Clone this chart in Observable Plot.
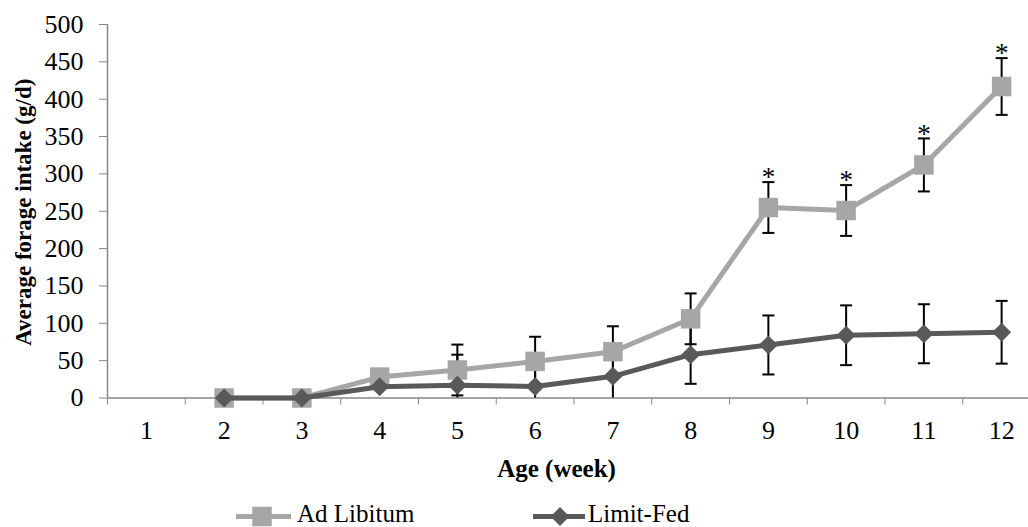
<!DOCTYPE html>
<html>
<head>
<meta charset="utf-8">
<script src="https://cdn.jsdelivr.net/npm/d3@7"></script>
<script src="https://cdn.jsdelivr.net/npm/@observablehq/plot@0.6"></script>
<style>
  html, body { margin: 0; padding: 0; background: #fff; }
  #chart { position: relative; width: 1028px; height: 527px; overflow: hidden; }
  #chart svg { display: block; }
</style>
</head>
<body>
<div id="chart"></div>
<script>
// Weekly forage intake (g/d) by feeding treatment, mean ± error
const weeks = [1, 2, 3, 4, 5, 6, 7, 8, 9, 10, 11, 12];
const adLibitum   = [null, 0, 0, 28, 37.5, 49, 62, 106, 255, 251, 312, 417];
const adLibitumSE = [null, 0, 0, 3, 34, 33, 34, 34, 34, 34, 35.5, 38];
const limitFed    = [null, 0, 0, 15, 17, 15.5, 29, 58, 71, 84, 86, 88];
const limitFedSE  = [null, 0, 0, 3, 41, 30, 35, 39, 39.5, 40, 39.5, 42];
const significant = [false, false, false, false, false, false, false, false, true, true, true, true];
const yTicks = [0, 50, 100, 150, 200, 250, 300, 350, 400, 450, 500];
const seriesNames = ["Ad Libitum", "Limit-Fed"];

const adColor = "#a6a6a6";
const lfColor = "#595959";
const axisColor = "#868686";
const serif = "'Liberation Serif', 'Times New Roman', serif";

// Marker shapes in fixed pixel sizes
const squareSym = {draw(ctx) { ctx.rect(-9.75, -9.75, 19.5, 19.5); }};
const diamondSym = {draw(ctx) { ctx.moveTo(0, -9.5); ctx.lineTo(9.5, 0); ctx.lineTo(0, 9.5); ctx.lineTo(-9.5, 0); ctx.closePath(); }};
const capSym = {draw(ctx) { ctx.moveTo(-6, 0); ctx.lineTo(6, 0); }};

function rows(values, se) {
  return weeks.map((w, i) => ({week: w, value: values[i], se: se[i], sig: significant[i]}))
    .filter(d => d.value != null);
}
const adRows = rows(adLibitum, adLibitumSE);
const lfRows = rows(limitFed, limitFedSE);

function bars(data) {
  return data.filter(d => d.se > 0).map(d => ({week: d.week, lo: Math.max(0, d.value - d.se), hi: d.value + d.se}));
}
function caps(data) {
  const out = [];
  for (const d of data) {
    if (!(d.se > 0)) continue;
    out.push({week: d.week, y: d.value + d.se});
    if (d.value - d.se >= 0) out.push({week: d.week, y: d.value - d.se});
  }
  return out;
}
// Boundaries between week categories carry the x-axis tick marks
const boundaries = weeks.map(w => w - 0.5).concat([weeks[weeks.length - 1] + 0.5]);

const plot = Plot.plot({
  width: 1028,
  height: 490,
  marginLeft: 107,
  marginRight: 0,
  marginTop: 24,
  marginBottom: 92.5,
  style: {fontFamily: serif, background: "#fff", color: "#000"},
  x: {domain: [0.5, 12.5], range: [107, 1040]},
  y: {domain: [0, 500]},
  marks: [
    // axes
    Plot.ruleY([0], {stroke: axisColor, strokeWidth: 1.5}),
    Plot.ruleX([0.5], {y1: 0, y2: 500, stroke: axisColor, strokeWidth: 1.5}),
    Plot.axisY({ticks: yTicks, tickSize: 8, tickPadding: 16, fontSize: 26, stroke: axisColor, fill: "#000", label: null}),
    Plot.axisX({ticks: boundaries, tickSize: 7, tickFormat: () => "", stroke: axisColor, label: null}),
    Plot.text(weeks, {x: d => d, text: d => String(d), frameAnchor: "bottom", lineAnchor: "middle", dy: 32.5, fontSize: 26, fill: "#000"}),
    Plot.text(["Average forage intake (g/d)"], {frameAnchor: "left", textAnchor: "middle", lineAnchor: "middle", rotate: -90, dx: -84, dy: 1, fontSize: 23, fontWeight: "bold", fill: "#000"}),
    Plot.text(["Age (week)"], {frameAnchor: "bottom", lineAnchor: "middle", dx: -11.5, dy: 70.5, fontSize: 25, fontWeight: "bold", fill: "#000"}),

    // Ad Libitum series
    Plot.line(adRows, {x: "week", y: "value", stroke: adColor, strokeWidth: 5, strokeLinejoin: "round"}),
    Plot.ruleX(bars(adRows), {x: "week", y1: "lo", y2: "hi", stroke: "#000", strokeWidth: 2}),
    Plot.dot(caps(adRows), {x: "week", y: "y", symbol: capSym, stroke: "#000", strokeWidth: 2, fill: "none"}),
    Plot.ruleX(bars(lfRows), {x: "week", y1: "lo", y2: "hi", stroke: "#000", strokeWidth: 2}),
    Plot.dot(caps(lfRows), {x: "week", y: "y", symbol: capSym, stroke: "#000", strokeWidth: 2, fill: "none"}),
    Plot.dot(adRows, {x: "week", y: "value", symbol: squareSym, fill: adColor, stroke: "none"}),
    Plot.text(adRows.filter(d => d.sig), {x: "week", y: d => d.value + d.se, text: () => "*", lineAnchor: "middle", fontSize: 27, dy: -4.5, fill: "#000"}),

    // Limit-Fed series
    Plot.line(lfRows, {x: "week", y: "value", stroke: lfColor, strokeWidth: 5, strokeLinejoin: "round"}),
    Plot.dot(lfRows, {x: "week", y: "value", symbol: diamondSym, fill: lfColor, stroke: "none"})
  ]
});

const chart = document.getElementById("chart");
chart.appendChild(plot);

// Legend below the plot
const legend = d3.create("svg")
  .attr("width", 1028)
  .attr("height", 37)
  .style("font-family", serif);
const items = [
  {name: seriesNames[0], color: adColor, x0: 236, x1: 291, mx: 262, shape: "square", tx: 297},
  {name: seriesNames[1], color: lfColor, x0: 533, x1: 585, mx: 560, shape: "diamond", tx: 588}
];
const cy = 26.5;
for (const it of items) {
  legend.append("line")
    .attr("x1", it.x0).attr("x2", it.x1).attr("y1", cy).attr("y2", cy)
    .attr("stroke", it.color).attr("stroke-width", 5);
  legend.append("path")
    .attr("transform", `translate(${it.mx},${cy})`)
    .attr("d", d3.symbol(it.shape === "square" ? squareSym : diamondSym)())
    .attr("fill", it.color);
  legend.append("text")
    .attr("x", it.tx).attr("y", 31.5)
    .attr("font-size", 25)
    .attr("fill", "#000")
    .text(it.name);
}
chart.appendChild(legend.node());
</script>
</body>
</html>
